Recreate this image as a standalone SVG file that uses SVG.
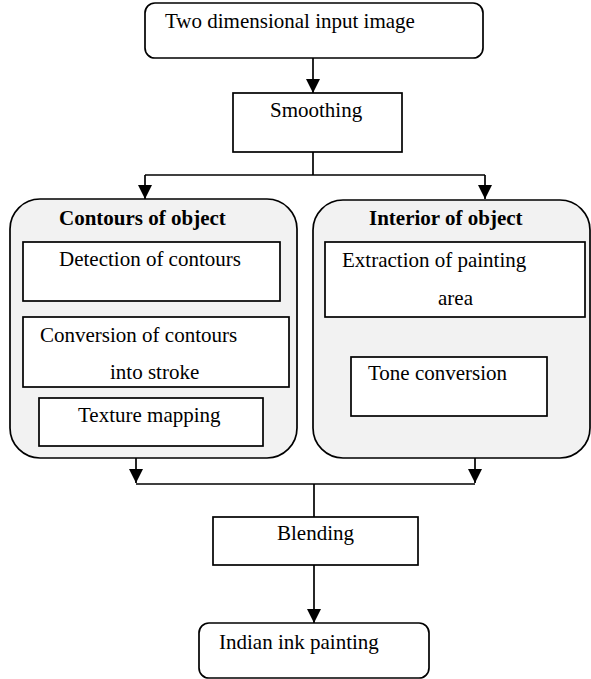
<svg xmlns="http://www.w3.org/2000/svg" width="591" height="679" viewBox="0 0 591 679">
<style>
.box{fill:#fff;stroke:#000;stroke-width:1.7}
.grp{fill:#f2f2f2;stroke:#000;stroke-width:1.7}
.t{font-family:"Liberation Serif","Times New Roman",serif;font-size:21px;fill:#000}
.b{font-weight:bold}
.ln{fill:none;stroke:#000;stroke-width:1.7}
</style>
<defs>
<marker id="ah" viewBox="0 0 14 14" refX="14" refY="7" markerWidth="14" markerHeight="14" markerUnits="userSpaceOnUse" orient="auto">
<path d="M0,0 L14,7 L0,14 z" fill="#000"/>
</marker>
</defs>
<g id="connectors">
<line class="ln" x1="313" y1="58" x2="313" y2="93" marker-end="url(#ah)"/>
<polyline class="ln" points="313,152 313,175"/>
<polyline class="ln" points="145,175 485,175"/>
<line class="ln" x1="145" y1="175" x2="145" y2="199" marker-end="url(#ah)"/>
<line class="ln" x1="485" y1="175" x2="485" y2="199" marker-end="url(#ah)"/>
<line class="ln" x1="136" y1="458" x2="136" y2="483" marker-end="url(#ah)"/>
<line class="ln" x1="475" y1="458" x2="475" y2="483" marker-end="url(#ah)"/>
<polyline class="ln" points="136,484 475,484"/>
<polyline class="ln" points="314,484 314,517"/>
<line class="ln" x1="314" y1="565" x2="314" y2="623" marker-end="url(#ah)"/>
</g>
<g id="input">
<rect class="box" x="145" y="3" width="338" height="55" rx="10"/>
<text class="t" x="165" y="28">Two dimensional input image</text>
</g>
<g id="smoothing">
<rect class="box" x="233" y="93" width="169" height="59"/>
<text class="t" x="270" y="117">Smoothing</text>
</g>
<g id="contours">
<rect class="grp" x="10" y="199" width="287" height="259" rx="30"/>
<text class="t b" x="59" y="225">Contours of object</text>
</g>
<g id="detection">
<rect class="box" x="23" y="242" width="257" height="59"/>
<text class="t" x="59" y="266">Detection of contours</text>
</g>
<g id="conversion">
<rect class="box" x="23" y="317" width="266" height="70"/>
<text class="t" x="40" y="342">Conversion of contours</text>
<text class="t" x="110" y="379">into stroke</text>
</g>
<g id="texture">
<rect class="box" x="39" y="398" width="224" height="48"/>
<text class="t" x="78" y="422">Texture mapping</text>
</g>
<g id="interior">
<rect class="grp" x="313" y="200" width="277" height="258" rx="30"/>
<text class="t b" x="369" y="225">Interior of object</text>
</g>
<g id="extraction">
<rect class="box" x="325" y="242" width="260" height="75"/>
<text class="t" x="342" y="267">Extraction of painting</text>
<text class="t" x="438" y="305">area</text>
</g>
<g id="tone">
<rect class="box" x="351" y="357" width="196" height="59"/>
<text class="t" x="368" y="380">Tone conversion</text>
</g>
<g id="blending">
<rect class="box" x="213" y="517" width="205" height="48"/>
<text class="t" x="277" y="540">Blending</text>
</g>
<g id="output">
<rect class="box" x="199" y="623" width="230" height="55" rx="10"/>
<text class="t" x="219" y="649">Indian ink painting</text>
</g>
</svg>
